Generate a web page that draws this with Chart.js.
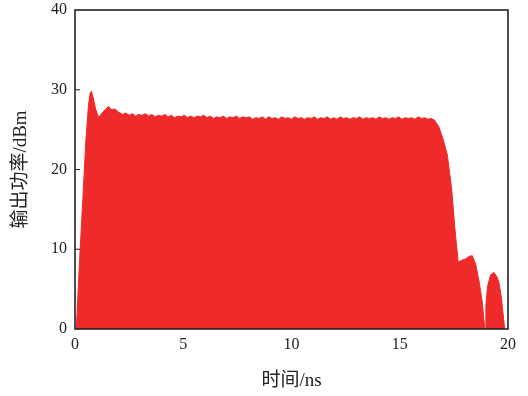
<!DOCTYPE html>
<html>
<head>
<meta charset="utf-8">
<script src="https://cdn.jsdelivr.net/npm/chart.js@4/dist/chart.umd.min.js"></script>
<style>
html,body{margin:0;padding:0;background:#fff;}
#wrap{width:528px;height:396px;position:relative;}
</style>
</head>
<body>
<div id="wrap"><canvas id="c" width="528" height="396"></canvas></div>
<script>
// time (ns)
const timeNs = [
  0.06,0.2,0.36,0.5,0.62,0.7,0.76,0.84,0.95,1.05,1.12,1.25,1.4,1.55,1.7,1.85,2.0,
  2.2,2.35,2.5,2.65,2.8,2.95,3.1,3.25,3.4,3.55,3.7,3.85,4.0,4.15,4.3,4.45,4.6,4.75,4.9,
  5.05,5.2,5.35,5.5,5.65,5.8,5.95,6.1,6.25,6.4,6.55,6.7,6.85,7.0,7.15,7.3,7.45,7.6,7.75,7.9,
  8.05,8.2,8.35,8.5,8.65,8.8,8.95,9.1,9.25,9.4,9.55,9.7,9.85,10.0,10.15,10.3,10.45,10.6,
  10.75,10.9,11.05,11.2,11.35,11.5,11.65,11.8,11.95,12.1,12.25,12.4,12.55,12.7,12.85,13.0,
  13.15,13.3,13.45,13.6,13.75,13.9,14.05,14.2,14.35,14.5,14.65,14.8,14.95,15.1,15.25,15.4,
  15.55,15.7,15.85,16.0,16.15,16.3,16.45,16.6,
  16.8,17.0,17.2,17.4,17.55,17.7,17.85,18.05,18.2,18.35,18.5,18.65,18.8,18.92,18.95,
  18.98,19.05,19.2,19.35,19.5,19.6,19.7,19.8,19.85
];
// output power (dBm)
const powerDbm = [
  0,8,16.2,23.5,28,29.6,29.8,29.0,27.6,26.8,26.6,27.1,27.5,27.9,27.5,27.6,27.2,
  26.9,27.1,26.8,27.0,26.7,26.9,26.8,27.0,26.7,26.9,26.6,26.8,26.7,26.9,26.6,26.8,26.5,26.7,26.6,
  26.8,26.5,26.7,26.5,26.7,26.6,26.8,26.5,26.7,26.4,26.6,26.5,26.7,26.4,26.6,26.5,26.7,26.4,26.6,26.5,
  26.6,26.3,26.5,26.4,26.6,26.3,26.6,26.4,26.5,26.3,26.6,26.4,26.5,26.3,26.6,26.4,26.5,26.3,
  26.5,26.4,26.6,26.3,26.5,26.4,26.6,26.3,26.5,26.3,26.6,26.4,26.5,26.3,26.5,26.4,
  26.6,26.3,26.5,26.4,26.5,26.3,26.6,26.4,26.5,26.3,26.5,26.4,26.6,26.3,26.5,26.4,
  26.5,26.3,26.6,26.4,26.5,26.3,26.4,26.2,
  25.4,23.8,21.8,17.5,12.5,8.4,8.6,8.8,9.1,9.2,8.2,6.2,3.6,0.3,0,
  3.0,5.3,6.8,7.1,6.5,5.6,3.8,1.2,0
];
const xTicks = [0,5,10,15,20];
const yTicks = [0,10,20,30,40];
const xTitle = '时间/ns';
const yTitle = '输出功率/dBm';

const points = timeNs.map((t,i)=>({x:t,y:powerDbm[i]}));
const FONT = '"Liberation Serif","Noto Sans CJK SC",serif';

const framePlugin = {
  id:'frame',
  afterDraw(chart){
    const {ctx, chartArea:a, scales} = chart;
    ctx.save();
    ctx.strokeStyle = '#222';
    ctx.lineWidth = 1.6;
    ctx.strokeRect(a.left, a.top, a.right-a.left, a.bottom-a.top);
    ctx.lineWidth = 1.2;
    ctx.beginPath();
    yTicks.forEach(v=>{
      if(v===0||v===40) return;
      const py = scales.y.getPixelForValue(v);
      ctx.moveTo(a.left, py);
      ctx.lineTo(a.left+5, py);
    });
    ctx.stroke();
    ctx.restore();
  }
};

new Chart(document.getElementById('c'), {
  type:'line',
  data:{datasets:[{
    data:points,
    fill:'origin',
    backgroundColor:'#ee2a2a',
    borderColor:'#ee2a2a',
    borderWidth:1,
    pointRadius:0,
    tension:0
  }]},
  options:{
    responsive:false,
    animation:false,
    events:[],
    layout:{padding:{top:10,right:20,left:0,bottom:0}},
    plugins:{legend:{display:false},tooltip:{enabled:false}},
    scales:{
      x:{
        type:'linear',min:0,max:20,
        afterFit(s){s.height=67;s.paddingLeft=0;s.paddingRight=0;},
        afterBuildTicks(s){s.ticks = xTicks.map(v=>({value:v}));},
        grid:{display:false,drawTicks:false},
        border:{display:false},
        ticks:{padding:6,color:'#222',font:{family:FONT,size:16},maxRotation:0,autoSkip:false},
        title:{display:true,text:xTitle,color:'#222',font:{family:FONT,size:19},padding:{top:0,bottom:4}}
      },
      y:{
        min:0,max:40,
        afterFit(s){s.width=75;s.paddingTop=0;s.paddingBottom=0;},
        afterBuildTicks(s){s.ticks = yTicks.map(v=>({value:v}));},
        grid:{display:false,drawTicks:false},
        border:{display:false},
        ticks:{padding:8,color:'#222',font:{family:FONT,size:16}},
        title:{display:true,text:yTitle,color:'#222',font:{family:FONT,size:19},padding:{top:10,bottom:0}}
      }
    }
  },
  plugins:[framePlugin]
});
</script>
</body>
</html>
